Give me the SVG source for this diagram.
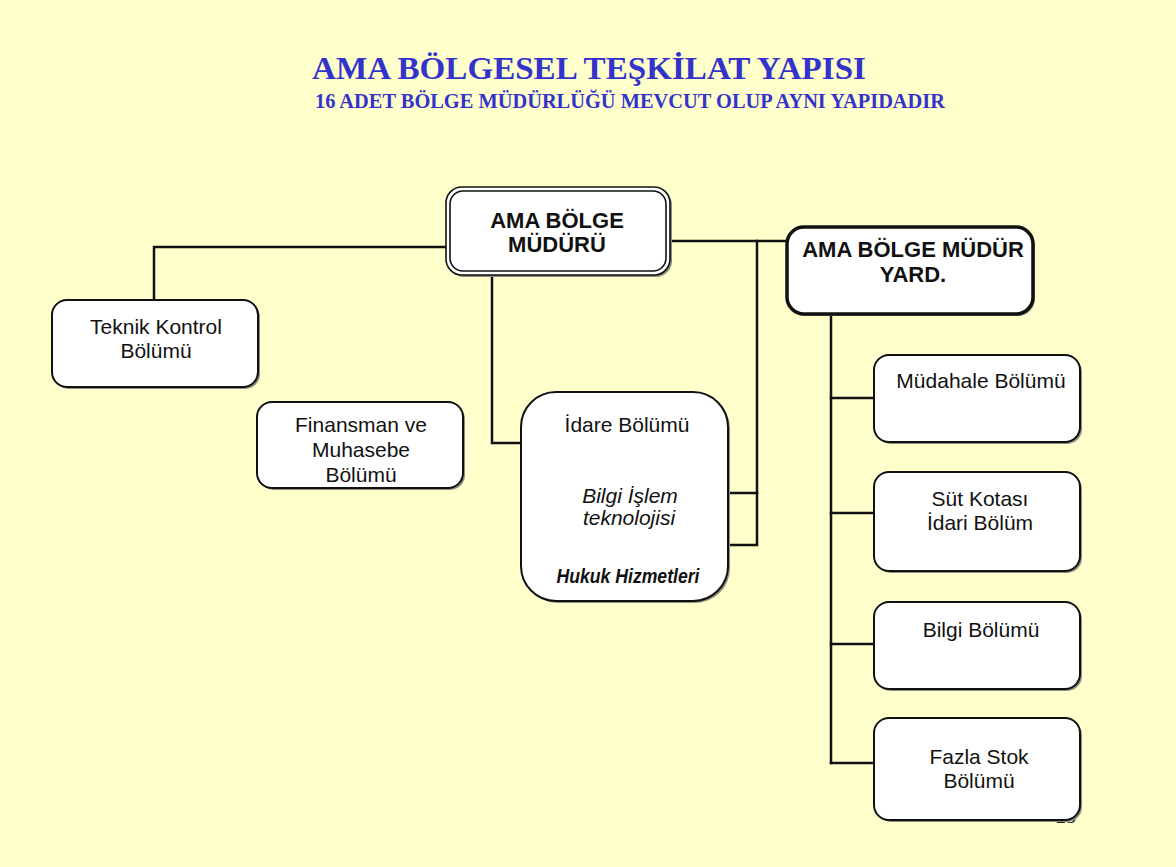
<svg xmlns="http://www.w3.org/2000/svg" width="1176" height="867" viewBox="0 0 1176 867">
  <style>
    .title { font-family: "Liberation Serif", "Times New Roman", serif; font-weight: bold; fill: #3333CC; }
    .lbl { font-family: "Liberation Sans", Arial, sans-serif; font-size: 21px; fill: #111; text-anchor: middle; }
    .bold { font-weight: bold; font-size: 22px; }
    .ital { font-style: italic; }
    .box { fill: #ffffff; stroke: #111; stroke-width: 2; }
    .shadow { fill: #8c8c80; }
    .wire { fill: none; stroke: #111; stroke-width: 2.5; stroke-linecap: square; }
  </style>

  <!-- slide background -->
  <rect x="0" y="0" width="1176" height="867" fill="#FFFFCC"/>

  <!-- heading -->
  <text class="title" x="312" y="79" font-size="32" textLength="554" lengthAdjust="spacingAndGlyphs">AMA BÖLGESEL TEŞKİLAT YAPISI</text>
  <text class="title" x="315" y="108" font-size="20" textLength="630" lengthAdjust="spacingAndGlyphs">16 ADET BÖLGE MÜDÜRLÜĞÜ MEVCUT OLUP AYNI YAPIDADIR</text>

  <!-- page number, mostly hidden behind the last box -->
  <text x="1056" y="823" font-family="Liberation Serif, serif" font-size="20" fill="#222">25</text>

  <!-- connectors -->
  <g id="connectors">
    <polyline class="wire" points="447,247 154,247 154,300"/>
    <line class="wire" x1="670" y1="241" x2="786" y2="241"/>
    <polyline class="wire" points="757,241 757,545 728,545"/>
    <line class="wire" x1="728" y1="493" x2="757" y2="493"/>
    <polyline class="wire" points="492,274 492,443 521,443"/>
    <line class="wire" x1="831" y1="314" x2="831" y2="763"/>
    <line class="wire" x1="831" y1="398" x2="874" y2="398"/>
    <line class="wire" x1="831" y1="513" x2="874" y2="513"/>
    <line class="wire" x1="831" y1="644" x2="874" y2="644"/>
    <line class="wire" x1="831" y1="763" x2="874" y2="763"/>
  </g>

  <!-- head of region -->
  <g id="node-mudur">
    <rect class="shadow" x="448" y="189" width="224" height="88" rx="16"/>
    <rect x="446" y="187" width="224" height="88" rx="16" fill="#fff" stroke="#111" stroke-width="1.6"/>
    <rect x="450" y="191" width="216" height="80" rx="13" fill="#fff" stroke="#111" stroke-width="1.6"/>
    <text class="lbl bold" x="557" y="228">AMA BÖLGE</text>
    <text class="lbl bold" x="557" y="252">MÜDÜRÜ</text>
  </g>

  <!-- deputy head -->
  <g id="node-yard">
    <rect class="shadow" x="789" y="229" width="246" height="87" rx="17"/>
    <rect x="787" y="227" width="246" height="87" rx="17" fill="#fff" stroke="#111" stroke-width="3.5"/>
    <text class="lbl bold" x="913" y="257">AMA BÖLGE MÜDÜR</text>
    <text class="lbl bold" x="913" y="282">YARD.</text>
  </g>

  <g id="node-teknik">
    <rect class="shadow" x="54" y="302" width="206" height="87" rx="15"/>
    <rect class="box" x="52" y="300" width="206" height="87" rx="15"/>
    <text class="lbl" x="156" y="334">Teknik Kontrol</text>
    <text class="lbl" x="156" y="358">Bölümü</text>
  </g>

  <g id="node-finansman">
    <rect class="shadow" x="259" y="404" width="206" height="86" rx="15"/>
    <rect class="box" x="257" y="402" width="206" height="86" rx="15"/>
    <text class="lbl" x="361" y="432">Finansman ve</text>
    <text class="lbl" x="361" y="457">Muhasebe</text>
    <text class="lbl" x="361" y="482">Bölümü</text>
  </g>

  <g id="node-idare">
    <rect class="shadow" x="523" y="394" width="207" height="209" rx="35"/>
    <rect class="box" x="521" y="392" width="207" height="209" rx="35"/>
    <text class="lbl" x="627" y="432">İdare Bölümü</text>
    <text class="lbl ital" x="630" y="503">Bilgi İşlem</text>
    <text class="lbl ital" x="629" y="525">teknolojisi</text>
    <text class="lbl ital" x="628" y="583" font-weight="bold" font-size="16" textLength="143" lengthAdjust="spacingAndGlyphs">Hukuk Hizmetleri</text>
  </g>

  <g id="node-mudahale">
    <rect class="shadow" x="876" y="357" width="206" height="87" rx="15"/>
    <rect class="box" x="874" y="355" width="206" height="87" rx="15"/>
    <text class="lbl" x="981" y="388">Müdahale Bölümü</text>
  </g>

  <g id="node-sut">
    <rect class="shadow" x="876" y="474" width="206" height="99" rx="15"/>
    <rect class="box" x="874" y="472" width="206" height="99" rx="15"/>
    <text class="lbl" x="980" y="506">Süt Kotası</text>
    <text class="lbl" x="980" y="530">İdari Bölüm</text>
  </g>

  <g id="node-bilgi">
    <rect class="shadow" x="876" y="604" width="206" height="87" rx="15"/>
    <rect class="box" x="874" y="602" width="206" height="87" rx="15"/>
    <text class="lbl" x="981" y="637">Bilgi Bölümü</text>
  </g>

  <g id="node-fazla">
    <rect class="shadow" x="876" y="720" width="206" height="102" rx="15"/>
    <rect class="box" x="874" y="718" width="206" height="102" rx="15"/>
    <text class="lbl" x="979" y="764">Fazla Stok</text>
    <text class="lbl" x="979" y="788">Bölümü</text>
  </g>
</svg>
